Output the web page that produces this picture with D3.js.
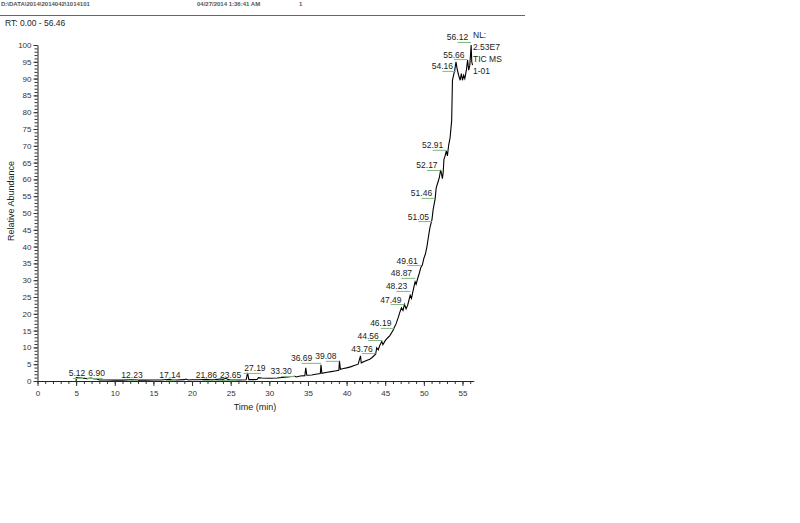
<!DOCTYPE html>
<html><head><meta charset="utf-8">
<script src="https://cdn.jsdelivr.net/npm/d3@7/dist/d3.min.js"></script>
<style>body{margin:0;background:#fff}svg{display:block}text{font-family:"Liberation Sans",Arial,sans-serif}</style>
</head><body><svg id="c" width="800" height="523"></svg>
<script>
// ---- data ----
const headerTexts = ["D:\\DATA\\2014\\2014042\\1014101", "04/27/2014 1:36:41 AM", "1"];
const rangeText = "RT: 0.00 - 56.46";
const xTicks = [0,5,10,15,20,25,30,35,40,45,50,55];
const yTicks = [0,5,10,15,20,25,30,35,40,45,50,55,60,65,70,75,80,85,90,95,100];
const infoLines = ["NL:", "2.53E7", "TIC MS", "1-01"];
const traceTime = [5.0,5.02,5.5,6.0,6.5,6.9,7.2,7.7,8.0,9,10,11,12.23,13,14,15,16,17.14,17.4,18,19,19.2,19.5,20,21,21.86,22.3,23,23.65,24,24.4,24.7,25,26,27.0,27.19,27.35,28.0,28.4,28.6,29,30,31,32,33.3,33.5,34,34.6,34.72,34.85,35.5,36,36.6,36.69,36.8,37.5,38,38.5,39.0,39.08,39.2,39.6,40,40.5,41,41.5,41.8,41.9,42.5,43,43.3,43.76,43.9,44.1,44.3,44.56,44.7,45.0,45.3,45.6,46.0,46.19,46.4,46.7,46.9,47.1,47.3,47.49,47.7,47.9,48.23,48.4,48.6,48.87,49.0,49.2,49.4,49.61,49.8,50.0,50.2,50.4,50.6,50.8,51.05,51.2,51.46,51.6,51.8,52.0,52.17,52.3,52.4,52.5,52.6,52.75,52.91,53.05,53.2,53.4,53.6,53.7,53.85,54.0,54.16,54.3,54.5,54.7,54.85,55.0,55.15,55.3,55.5,55.66,55.8,55.95,56.12,56.2,56.3];
const traceAbund = [0,1.0,0.9,0.8,0.7,0.9,0.7,0.6,0.3,0.3,0.25,0.25,0.35,0.25,0.25,0.3,0.3,0.5,0.3,0.3,0.4,0.6,0.3,0.35,0.35,0.5,0.35,0.4,0.6,0.5,0.8,0.4,0.3,0.3,0.35,2.4,0.4,0.4,0.45,1.0,0.9,0.8,0.9,1.1,1.4,1.2,1.5,1.6,3.9,1.7,1.8,2.0,2.2,4.8,2.3,2.6,2.8,3.0,3.2,6.0,3.5,3.7,3.9,4.2,4.6,5.0,7.5,5.4,6.0,6.5,7.0,8.0,9.9,9.3,10.6,11.8,10.8,12.0,12.8,13.5,15.0,16.0,17.0,19.0,20.5,21.8,21.0,22.8,21.5,22.5,25.5,24.6,26.8,29.5,28.8,30.5,32.0,33.8,34.5,36.5,37.8,40.0,43.0,45.8,48.0,51.0,54.2,57.5,59.0,60.5,62.8,61.5,60.2,62.0,66.0,67.0,68.5,67.0,70.0,72.5,77.5,89.5,91.0,92.5,95.0,93.0,91.0,89.5,91.5,89.5,91.0,90.0,92.5,95.5,92.5,94.0,100.0,95.0,94.0];
const peakRT = [5.12,6.90,12.23,17.14,21.86,23.65,27.19,33.30,36.69,39.08,43.76,44.56,46.19,47.49,48.23,48.87,49.61,51.05,51.46,52.17,52.91,54.16,55.66,56.12];
const peakLevel = [0.9,0.9,0.3,0.3,0.3,0.3,2.4,1.5,5.4,6.0,8.3,12.2,15.8,22.9,26.8,30.7,34.5,47.6,54.5,62.8,68.8,92.3,95.8,100.9];

// ---- layout ----
const svg = d3.select("#c");
const x = d3.scaleLinear().domain([0, 56.46]).range([37.5, 37.5 + 56.46 * 7.727]);
const y = d3.scaleLinear().domain([0, 100]).range([381, 45]);

// header
svg.append("text").attr("x", 1).attr("y", 6).attr("font-size", 6).attr("font-weight", "bold").attr("fill", "#555").text(headerTexts[0]);
svg.append("text").attr("x", 197).attr("y", 6).attr("font-size", 6).attr("font-weight", "bold").attr("fill", "#555").text(headerTexts[1]);
svg.append("text").attr("x", 299).attr("y", 6).attr("font-size", 6).attr("font-weight", "bold").attr("fill", "#555").text(headerTexts[2]);
svg.append("line").attr("x1", 0).attr("x2", 525).attr("y1", 15.5).attr("y2", 15.5).attr("stroke", "#666").attr("stroke-width", 1);
svg.append("text").attr("x", 5).attr("y", 26).attr("font-size", 8.5).attr("fill", "#223").text(rangeText);

// axes
const gx = svg.append("g").attr("transform", "translate(0,381)");
gx.call(d3.axisBottom(x).tickValues(d3.range(0, 57, 1)).tickSize(3).tickSizeOuter(0).tickFormat(""));
gx.call(g => g.select(".domain").remove());
const gx2 = svg.append("g").attr("transform", "translate(0,381)");
gx2.call(d3.axisBottom(x).tickValues(xTicks).tickSize(5).tickSizeOuter(0).tickPadding(4));
gx2.selectAll("text").attr("font-size", 8).attr("fill", "#333").attr("font-family", "Liberation Sans, Arial, sans-serif");
const gy = svg.append("g").attr("transform", "translate(37.5,0)");
gy.call(d3.axisLeft(y).tickValues(d3.range(0, 101, 1)).tickSize(3).tickSizeOuter(0).tickFormat(""));
gy.call(g => g.select(".domain").remove());
const gy2 = svg.append("g").attr("transform", "translate(37.5,0)");
gy2.call(d3.axisLeft(y).tickValues(yTicks).tickSize(4).tickSizeOuter(0).tickPadding(2));
gy2.selectAll("text").attr("font-size", 8).attr("fill", "#333").attr("font-family", "Liberation Sans, Arial, sans-serif");
svg.selectAll(".tick line").attr("stroke", "#333");
svg.selectAll(".domain").attr("stroke", "#222");

svg.append("text").attr("x", 255).attr("y", 410).attr("text-anchor", "middle").attr("font-size", 9).attr("fill", "#222").text("Time (min)");
svg.append("text").attr("transform", "translate(14,201) rotate(-90)").attr("text-anchor", "middle").attr("font-size", 9).attr("fill", "#222").text("Relative Abundance");

// trace
const pts = traceTime.map((t, i) => [t, traceAbund[i]]);
svg.append("path").datum(pts)
  .attr("d", d3.line().x(d => x(d[0])).y(d => y(d[1])))
  .attr("fill", "none").attr("stroke", "#000").attr("stroke-width", 1.1);

// peak labels: measure first, then resolve overlaps
const gl = svg.append("g");
const labs = peakRT.map((rt, i) => {
  const t = gl.append("text").attr("font-size", 8.5).attr("fill", "#222").text(rt.toFixed(2));
  return {rt, px: x(rt), ly: y(peakLevel[i]), w: t.node().getComputedTextLength(), node: t};
});
// early labels: centered, pushed right when crowded
let prev = null;
labs.filter(d => d.rt < 30).forEach(d => {
  d.left = d.px - d.w / 2;
  if (prev && d.left < prev.left + prev.w + 3 && Math.abs(prev.ly - d.ly) < 10) d.left = prev.left + prev.w + 3;
  prev = d;
});
// late labels: right-aligned just left of the peak, pushed left when crowded
let next = null;
labs.filter(d => d.rt >= 30).reverse().forEach(d => {
  d.left = d.px - 3 - d.w;
  if (next && d.left + d.w > next.left - 3 && Math.abs(next.ly - d.ly) < 10) d.left = next.left - 3 - d.w;
  next = d;
});
labs.forEach(d => {
  d.node.attr("x", d.left).attr("y", d.ly - 1.5);
  const cx = d.left + d.w / 2;
  const a = Math.min(cx, d.px - 4), b = Math.max(cx + 6, d.px);
  gl.append("line").attr("x1", a).attr("x2", b).attr("y1", d.ly + 0.5).attr("y2", d.ly + 0.5)
    .attr("stroke", "#7fb87f").attr("stroke-width", 1);
});

// info
infoLines.forEach((s, i) => {
  svg.append("text").attr("x", 473).attr("y", 38 + i * 12).attr("font-size", 8.5).attr("fill", "#222").text(s);
});
</script></body></html>
